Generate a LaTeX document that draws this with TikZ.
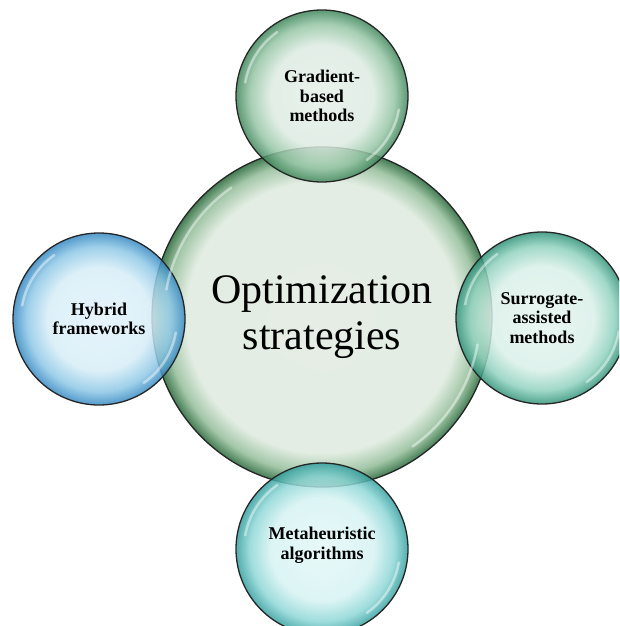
\documentclass[tikz,border=0pt]{standalone}
\usepackage{fontspec}
\setmainfont{Liberation Serif}
% bubble shadings: flat light inside, darker rim
\pgfdeclareradialshading{hubshade}{\pgfpoint{0bp}{0bp}}{%
  rgb(0bp)=(0.90,0.93,0.90); rgb(20bp)=(0.89,0.93,0.89); rgb(23bp)=(0.64,0.78,0.66); rgb(25bp)=(0.27,0.49,0.33); rgb(50bp)=(0.27,0.49,0.33)}
\pgfdeclareradialshading{gradshade}{\pgfpoint{0bp}{0bp}}{%
  rgb(0bp)=(0.90,0.94,0.91); rgb(15bp)=(0.86,0.92,0.88); rgb(21bp)=(0.58,0.77,0.64); rgb(25bp)=(0.24,0.52,0.35); rgb(50bp)=(0.24,0.52,0.35)}
\pgfdeclareradialshading{hybshade}{\pgfpoint{0bp}{0bp}}{%
  rgb(0bp)=(0.89,0.95,0.98); rgb(15bp)=(0.84,0.93,0.97); rgb(21bp)=(0.55,0.78,0.90); rgb(25bp)=(0.20,0.53,0.76); rgb(50bp)=(0.20,0.53,0.76)}
\pgfdeclareradialshading{surrshade}{\pgfpoint{0bp}{0bp}}{%
  rgb(0bp)=(0.90,0.96,0.94); rgb(15bp)=(0.85,0.94,0.91); rgb(21bp)=(0.56,0.82,0.74); rgb(25bp)=(0.18,0.57,0.47); rgb(50bp)=(0.18,0.57,0.47)}
\pgfdeclareradialshading{metashade}{\pgfpoint{0bp}{0bp}}{%
  rgb(0bp)=(0.89,0.97,0.97); rgb(15bp)=(0.84,0.95,0.95); rgb(21bp)=(0.55,0.84,0.84); rgb(25bp)=(0.20,0.62,0.62); rgb(50bp)=(0.20,0.62,0.62)}
\begin{document}
\begin{tikzpicture}[x=1pt,y=1pt,
   every node/.style={circle, draw=black!85, line width=1.3pt, inner sep=0pt, align=center},
   hub/.style={minimum size=340pt, shading=hubshade, font=\fontsize{42}{46}\selectfont},
   bubble/.style={minimum size=172pt, fill opacity=0.84, text opacity=1,
                  font=\fontsize{18}{19.5}\selectfont\bfseries},
   gloss/.style={white, line width=2.5pt, line cap=round, opacity=0.45}]

\useasboundingbox (0,0) rectangle (619,-626);
\clip (0,0) rectangle (619,-626);

\node[hub] (opt) at (322,-317) {Optimization\\strategies};

\node[bubble, shading=gradshade] (grad) at (322,-96)  {Gradient-\\based\\methods};
\node[bubble, shading=hybshade]  (hyb)  at (99,-319)  {Hybrid\\frameworks};
\node[bubble, shading=surrshade] (surr) at (542,-318) {Surrogate-\\assisted\\methods};
\node[bubble, shading=metashade] (meta) at (322,-549) {Metaheuristic\\algorithms\\[-8pt]};

% glossy highlights
\foreach \n/\r in {opt/158, grad/78, hyb/78, surr/78, meta/78}{
  \draw[gloss] (\n.center) ++(170:\r) arc[start angle=170, end angle=125, radius=\r];
  \draw[gloss] (\n.center) ++(-10:\r) arc[start angle=-10, end angle=-55, radius=\r];
}

\end{tikzpicture}
\end{document}
